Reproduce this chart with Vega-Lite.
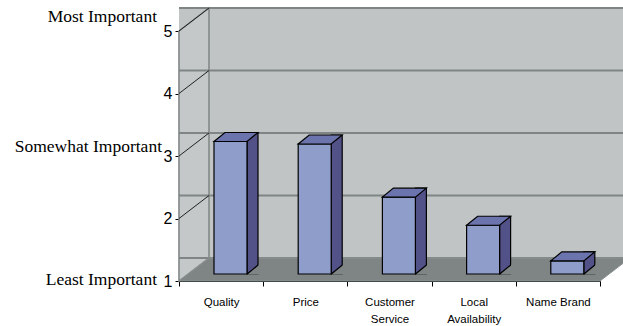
{
  "$schema": "https://vega.github.io/schema/vega-lite/v6.json",
  "width": 421,
  "height": 250,
  "autosize": {"type": "none"},
  "padding": {"left": 179, "top": 31, "right": 23, "bottom": 45},
  "background": "white",
  "config": {"view": {"stroke": null}, "font": "Liberation Sans", "axis": {"grid": false}},
  "datasets": {
    "ratings": [
      {"item": "Quality", "score": 3.12},
      {"item": "Price", "score": 3.08},
      {"item": "Customer Service", "score": 2.23},
      {"item": "Local Availability", "score": 1.78},
      {"item": "Name Brand", "score": 1.21}
    ],
    "levels": [{"level": 1}, {"level": 2}, {"level": 3}, {"level": 4}, {"level": 5}],
    "anchors": [
      {"label": "Most Important", "level": 5},
      {"label": "Somewhat Important", "level": 3},
      {"label": "Least Important", "level": 1}
    ]
  },
  "layer": [
    {
      "data": {"values": [{}]},
      "mark": {"type": "rect", "fill": "#c0c4c4", "xOffset": 30, "x2Offset": 30, "yOffset": -23, "y2Offset": -23},
      "encoding": {
        "y": {"datum": 5, "type": "quantitative", "scale": {"domain": [1, 5], "nice": false, "zero": false}},
        "y2": {"datum": 1}
      }
    },
    {
      "data": {"values": [{}]},
      "mark": {"type": "point", "shape": "M0,0 L30,-23 L30,227 L0,250 Z", "size": 4, "filled": true, "fill": "#c4c8c8", "stroke": "#7f8484", "strokeWidth": 1.5, "opacity": 1},
      "encoding": {
        "x": {"datum": "Quality", "type": "nominal", "bandPosition": 0},
        "y": {"datum": 5, "type": "quantitative"}
      }
    },
    {
      "data": {"name": "levels"},
      "mark": {"type": "rule", "stroke": "#7f8484", "strokeWidth": 2, "xOffset": 30, "x2Offset": 30, "yOffset": -23},
      "encoding": {"y": {"field": "level", "type": "quantitative", "title": null}}
    },
    {
      "data": {"values": [{}]},
      "mark": {"type": "point", "shape": "M0,0 L421,0 L451,-23 L30,-23 Z", "size": 4, "filled": true, "fill": "#7f8585", "stroke": "#8c9292", "strokeWidth": 1, "opacity": 1},
      "encoding": {
        "x": {"datum": "Quality", "type": "nominal", "bandPosition": 0},
        "y": {"datum": 1, "type": "quantitative"}
      }
    },
    {
      "data": {"name": "levels"},
      "transform": [{"filter": "datum.level > 1"}],
      "mark": {"type": "point", "shape": "M0,0 L30,-23", "size": 4, "filled": false, "stroke": "#222222", "strokeWidth": 1, "opacity": 1},
      "encoding": {
        "x": {"datum": "Quality", "type": "nominal", "bandPosition": 0},
        "y": {"field": "level", "type": "quantitative", "title": null}
      }
    },
    {
      "data": {"name": "ratings"},
      "mark": {"type": "bar", "fill": "#525288", "stroke": "#000000", "strokeWidth": 1.2, "width": 11, "xOffset": 31.4, "yOffset": -16, "y2Offset": -7},
      "encoding": {
        "x": {"field": "item", "type": "nominal", "sort": null, "title": null},
        "y": {"field": "score", "type": "quantitative", "title": null},
        "y2": {"datum": 1}
      }
    },
    {
      "data": {"name": "ratings"},
      "mark": {"type": "point", "shape": "M26,-6.4 L38.5,-6.4 L38.5,-17 Z", "size": 4, "filled": true, "fill": "#7f8585", "strokeWidth": 0, "opacity": 1},
      "encoding": {
        "x": {"field": "item", "type": "nominal", "sort": null, "title": null},
        "y": {"datum": 1, "type": "quantitative"}
      }
    },
    {
      "data": {"name": "ratings"},
      "mark": {"type": "point", "shape": "M26,-7 L37,-16", "size": 4, "filled": false, "stroke": "#000000", "strokeWidth": 1.2, "opacity": 1},
      "encoding": {
        "x": {"field": "item", "type": "nominal", "sort": null, "title": null},
        "y": {"datum": 1, "type": "quantitative"}
      }
    },
    {
      "data": {"name": "ratings"},
      "mark": {"type": "bar", "fill": "#8f9dcb", "stroke": "#000000", "strokeWidth": 1.2, "width": 33, "xOffset": 9.4, "yOffset": -7, "y2Offset": -7},
      "encoding": {
        "x": {
          "field": "item", "type": "nominal", "sort": null, "title": null,
          "scale": {"domain": ["Quality", "Price", "Customer Service", "Local Availability", "Name Brand"], "paddingInner": 0, "paddingOuter": 0},
          "axis": {"labelAngle": 0, "labelAlign": "center", "labelBaseline": "top", "tickBand": "extent", "domainColor": "#000000", "domainWidth": 1.2, "tickColor": "#000000", "tickSize": 5, "labelFontSize": 11.5, "labelColor": "#000000", "labelPadding": 10, "labelLineHeight": 17, "labelOverlap": false, "labelFont": "Liberation Sans", "labelExpr": "length(datum.label) > 10 ? split(datum.label, ' ') : datum.label"}
        },
        "y": {
          "field": "score", "type": "quantitative", "title": null,
          "scale": {"domain": [1, 5], "nice": false, "zero": false},
          "axis": {"values": [1, 2, 3, 4, 5], "format": "d", "grid": false, "domainColor": "#000000", "domainWidth": 1.2, "tickColor": "#000000", "tickSize": 4, "labelFontSize": 16, "labelPadding": 3, "labelColor": "#000000", "labelFont": "Liberation Sans"}
        },
        "y2": {"datum": 1}
      }
    },
    {
      "data": {"name": "ratings"},
      "mark": {"type": "point", "shape": "M-7.1,-7 L25.9,-7 L36.9,-16 L3.9,-16 Z", "size": 4, "filled": true, "fill": "#6c74ae", "stroke": "#000000", "strokeWidth": 1.2, "opacity": 1},
      "encoding": {
        "x": {"field": "item", "type": "nominal", "sort": null, "title": null},
        "y": {"field": "score", "type": "quantitative", "title": null}
      }
    },
    {
      "data": {"name": "anchors"},
      "transform": [{"filter": "datum.level == 5"}],
      "mark": {"type": "text", "align": "right", "baseline": "alphabetic", "dx": -22, "dy": -9, "font": "Liberation Serif", "fontSize": 17.5, "color": "#000000"},
      "encoding": {
        "x": {"datum": "Quality", "type": "nominal", "bandPosition": 0},
        "y": {"field": "level", "type": "quantitative", "title": null},
        "text": {"field": "label"}
      }
    },
    {
      "data": {"name": "anchors"},
      "transform": [{"filter": "datum.level == 3"}],
      "mark": {"type": "text", "align": "right", "baseline": "alphabetic", "dx": -17, "dy": -4, "font": "Liberation Serif", "fontSize": 17.5, "color": "#000000"},
      "encoding": {
        "x": {"datum": "Quality", "type": "nominal", "bandPosition": 0},
        "y": {"field": "level", "type": "quantitative", "title": null},
        "text": {"field": "label"}
      }
    },
    {
      "data": {"name": "anchors"},
      "transform": [{"filter": "datum.level == 1"}],
      "mark": {"type": "text", "align": "right", "baseline": "alphabetic", "dx": -22, "dy": 4, "font": "Liberation Serif", "fontSize": 17.5, "color": "#000000"},
      "encoding": {
        "x": {"datum": "Quality", "type": "nominal", "bandPosition": 0},
        "y": {"field": "level", "type": "quantitative", "title": null},
        "text": {"field": "label"}
      }
    }
  ]
}
